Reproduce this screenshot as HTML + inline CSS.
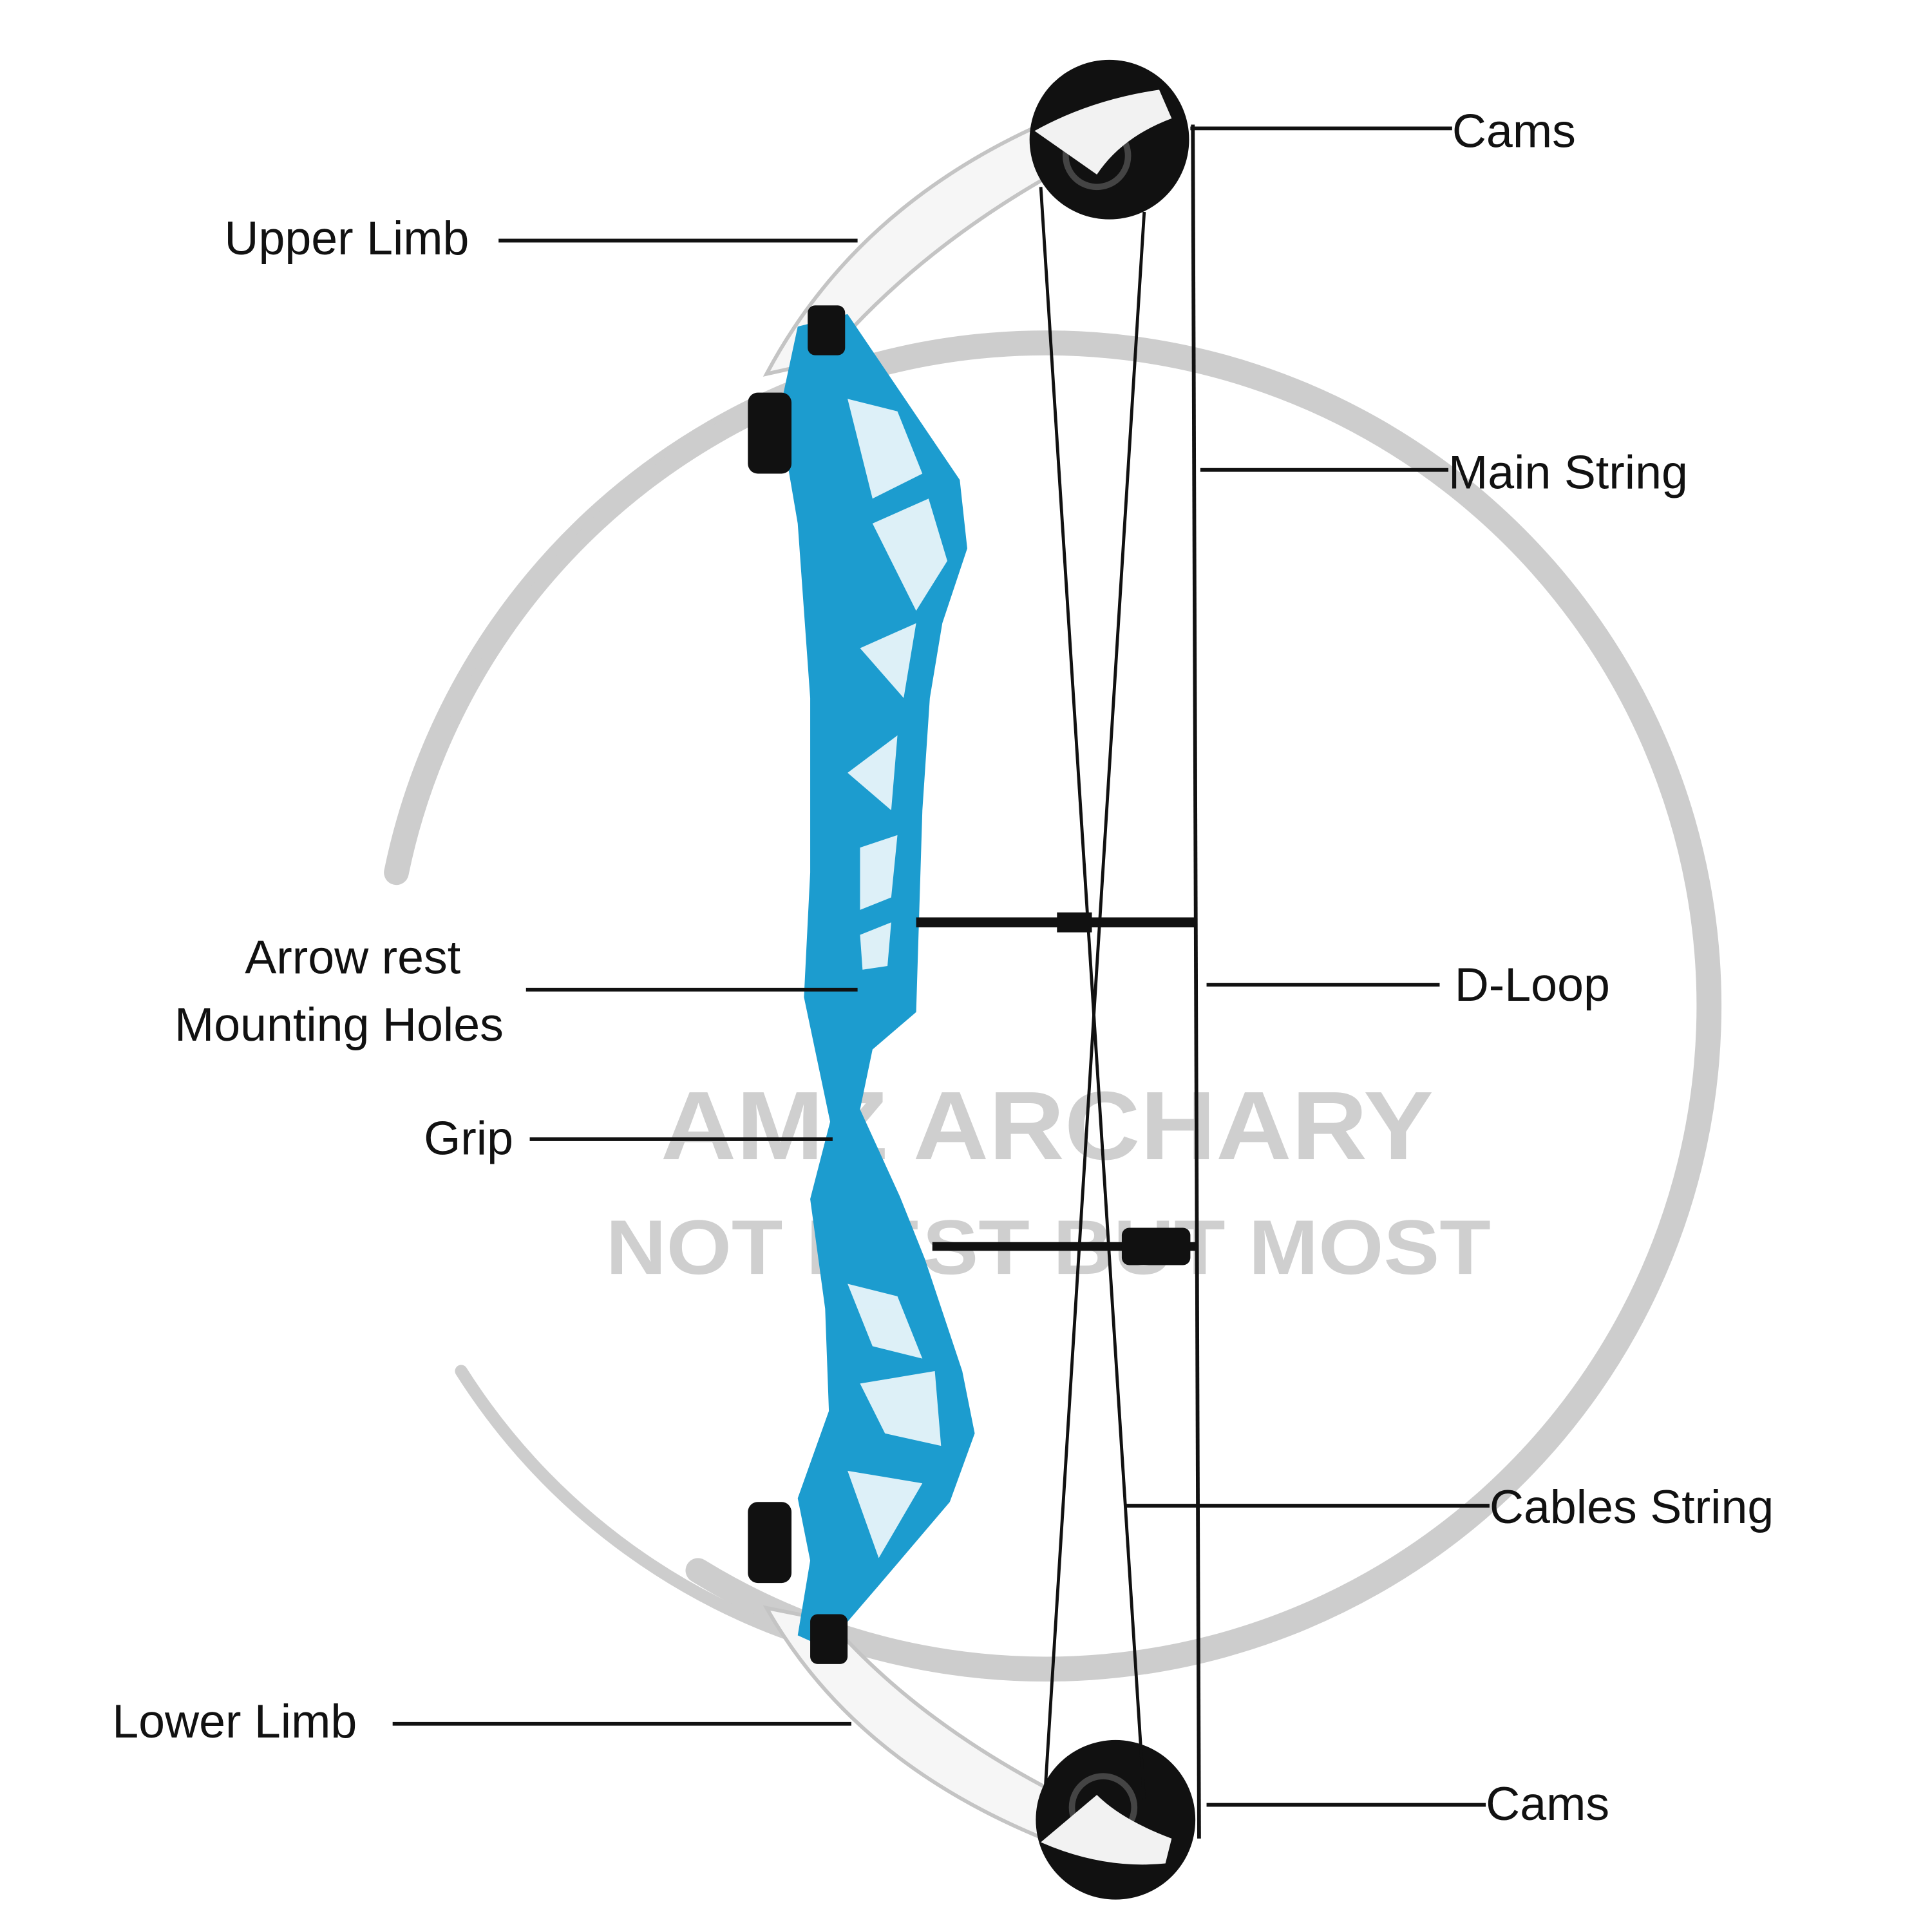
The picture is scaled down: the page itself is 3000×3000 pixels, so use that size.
<!DOCTYPE html>
<html><head><meta charset="utf-8"><style>html,body{margin:0;padding:0;background:#fff}svg{display:block}</style></head>
<body>
<svg width="3000" height="3000" viewBox="0 0 1550 1550" xmlns="http://www.w3.org/2000/svg">
<rect width="1550" height="1550" fill="#fff"/>
<!-- watermark -->
<g fill="none" stroke="#cdcdcd" stroke-linecap="round">
<path d="M318 700 A532 532 0 1 1 560 1260" stroke-width="20"/>
<path d="M370 1100 A520 520 0 0 0 660 1320" stroke-width="10"/>
<path d="M340 640 A540 540 0 0 1 600 330" stroke-width="8"/>
</g>
<g fill="#cfcfcf" font-family="Liberation Sans, sans-serif" font-weight="bold">
<text x="530" y="930" font-size="78" textLength="620" lengthAdjust="spacingAndGlyphs">AMZ ARCHARY</text>
<text x="486" y="1022" font-size="62" textLength="710" lengthAdjust="spacingAndGlyphs">NOT BEST BUT MOST</text>
</g>
<!-- limbs -->
<path d="M615 300 Q700 140 900 75 L935 95 Q760 170 660 290 Z" fill="#f6f6f6" stroke="#c4c4c4" stroke-width="3"/>
<path d="M615 1290 Q700 1440 910 1500 L940 1480 Q760 1410 665 1300 Z" fill="#f6f6f6" stroke="#c4c4c4" stroke-width="3"/>
<!-- cams -->
<circle cx="890" cy="112" r="64" fill="#111"/>
<circle cx="895" cy="1460" r="64" fill="#111"/>
<circle cx="880" cy="125" r="25" fill="none" stroke="#444" stroke-width="5"/>
<circle cx="885" cy="1450" r="25" fill="none" stroke="#444" stroke-width="5"/>
<path d="M830 105 Q875 80 930 72 L940 95 Q900 110 880 140 Z" fill="#f2f2f2"/>
<path d="M835 1478 Q885 1500 935 1495 L940 1475 Q900 1460 880 1440 Z" fill="#f2f2f2"/>
<!-- riser -->
<path d="M640 262 L680 252 L770 385 L776 440 L756 500 L746 560 L740 650 L735 812 L700 842 L690 890 L722 960 L742 1010 L772 1100 L782 1150 L762 1205 L705 1272 L662 1322 L640 1312 L650 1252 L640 1202 L665 1132 L662 1050 L650 962 L666 900 L645 800 L650 700 L650 560 L640 420 L625 332 Z" fill="#1c9ccf"/>
<g fill="#fff" opacity="0.85">
<path d="M680 320 L720 330 L740 380 L700 400 Z"/><path d="M700 420 L745 400 L760 450 L735 490 Z"/>
<path d="M690 520 L735 500 L725 560 Z"/><path d="M680 620 L720 590 L715 650 Z"/>
<path d="M690 680 L720 670 L715 720 L690 730 Z"/><path d="M690 750 L715 740 L712 775 L692 778 Z"/>
<path d="M680 1030 L720 1040 L740 1090 L700 1080 Z"/><path d="M690 1110 L750 1100 L755 1160 L710 1150 Z"/>
<path d="M680 1180 L740 1190 L705 1250 Z"/>
</g>
<rect x="600" y="315" width="35" height="65" rx="8" fill="#111"/>
<rect x="600" y="1205" width="35" height="65" rx="8" fill="#111"/>
<rect x="648" y="245" width="30" height="40" rx="6" fill="#111"/>
<rect x="650" y="1295" width="30" height="40" rx="6" fill="#111"/>
<!-- strings -->
<g stroke="#111" fill="none">
<line x1="957" y1="100" x2="962" y2="1475" stroke-width="3"/>
<line x1="835" y1="150" x2="918" y2="1445" stroke-width="2.5"/>
<line x1="918" y1="170" x2="838" y2="1445" stroke-width="2.5"/>
<line x1="735" y1="740" x2="960" y2="740" stroke-width="8"/>
<line x1="748" y1="1000" x2="960" y2="1000" stroke-width="7"/>
</g>
<rect x="900" y="985" width="55" height="30" rx="6" fill="#111"/>
<rect x="848" y="732" width="28" height="16" fill="#111"/>
<!-- label lines -->
<g stroke="#111" stroke-width="3">
<line x1="955" y1="103" x2="1165" y2="103"/>
<line x1="400" y1="193" x2="688" y2="193"/>
<line x1="963" y1="377" x2="1162" y2="377"/>
<line x1="422" y1="794" x2="688" y2="794"/>
<line x1="968" y1="790" x2="1155" y2="790"/>
<line x1="425" y1="914" x2="668" y2="914"/>
<line x1="903" y1="1208" x2="1195" y2="1208"/>
<line x1="315" y1="1383" x2="683" y2="1383"/>
<line x1="968" y1="1448" x2="1192" y2="1448"/>
</g>
<g fill="#111" font-family="Liberation Sans, sans-serif" font-size="38">
<text x="1165" y="118">Cams</text>
<text x="180" y="204">Upper Limb</text>
<text x="1162" y="392">Main String</text>
<text x="283" y="781" text-anchor="middle">Arrow rest</text>
<text x="272" y="835" text-anchor="middle">Mounting Holes</text>
<text x="1167" y="803">D-Loop</text>
<text x="340" y="926">Grip</text>
<text x="1195" y="1222">Cables String</text>
<text x="90" y="1394">Lower Limb</text>
<text x="1192" y="1460">Cams</text>
</g>
</svg>
</body></html>
